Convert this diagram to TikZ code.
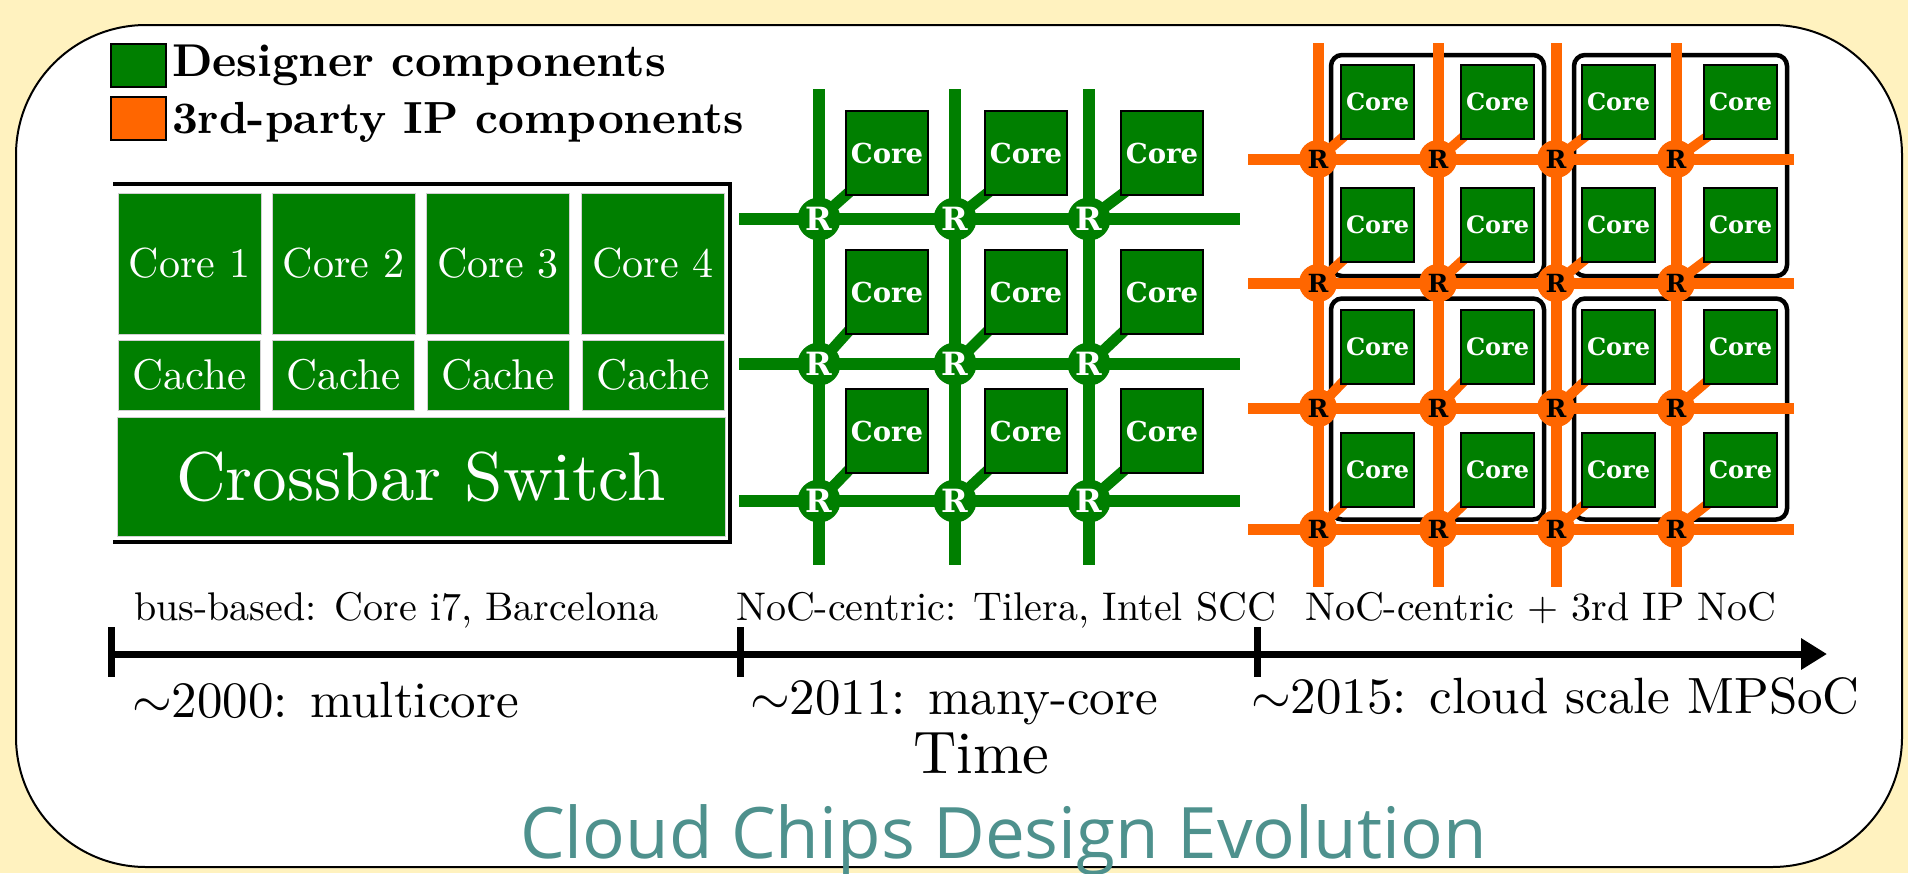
\documentclass[tikz,border=0pt]{standalone}
\usepackage{fontspec}
\setmainfont{lmroman10-regular.otf}[BoldFont=lmroman10-bold.otf]
\newfontfamily\titlefont{Open Sans}
\newfontfamily\gridfont{DejaVu Serif}
\usepackage{graphicx}
\usetikzlibrary{arrows.meta}
\definecolor{bgyel}{HTML}{FFF2BF}
\definecolor{gcol}{HTML}{007F00}
\definecolor{ocol}{HTML}{FF6600}
\definecolor{tealtitle}{HTML}{4E918D}
\newcommand\fsz[1]{\fontsize{#1}{#1}\selectfont}
\newcommand\tld[1]{\scalebox{#1}{\fsz{10}$\sim$}}
\pgfdeclarelayer{back}
\pgfdeclarelayer{wires}
\pgfsetlayers{back,wires,main}
\begin{document}
\begin{tikzpicture}[x=1pt,y=-1pt,
  every node/.style={inner sep=0pt, outer sep=0pt},
  legbox/.style={draw=black, line width=1.2pt, minimum width=55pt, minimum height=43pt},
  legtext/.style={anchor=base west, font=\bfseries\fsz{46}},
  mcbox/.style={fill=gcol, draw=black!18, line width=1pt, text=white},
  mccore/.style={mcbox, minimum width=143pt, minimum height=141pt, font=\fsz{42}},
  mccache/.style={mcbox, minimum width=142pt, minimum height=70pt, font=\fsz{43}},
  frameline/.style={line width=4pt, black},
  gwire/.style={gcol, line width=12pt},
  grouter/.style={circle, fill=gcol, minimum size=43pt, text=white, font=\gridfont\bfseries\fsz{32}},
  gcore/.style={fill=gcol, draw=black, line width=2pt, minimum width=82pt, minimum height=84pt, text=white, font=\gridfont\bfseries\fsz{27.5}},
  glink/.style={gcol, line width=11pt, shorten >=-12pt},
  owire/.style={ocol, line width=11pt},
  orouter/.style={circle, fill=ocol, minimum size=38pt, text=black, font=\gridfont\bfseries\fsz{25}},
  ocore/.style={fill=gcol, draw=black, line width=1.8pt, minimum width=73pt, minimum height=74pt, text=white, font=\gridfont\bfseries\fsz{24}},
  olink/.style={ocol, line width=10pt, shorten >=-10pt},
  cluster/.style={draw=black, line width=4.5pt, rounded corners=11pt, minimum width=213pt, minimum height=221pt},
  axisline/.style={line width=7pt, black},
  tlabel/.style={anchor=base west, font=\fsz{40}},
  era/.style={anchor=base west, font=\fsz{51}},
]
\useasboundingbox (0,0) rectangle (1908,873);
\begin{pgfonlayer}{back}
  \fill[bgyel] (0,0) rectangle (1908,873);
  \draw[fill=white, line width=2pt, rounded corners=130pt] (16,25) rectangle (1902,867);
\end{pgfonlayer}

% legend
\node[legbox, fill=gcol] (lg) at (138.5,65.5) {};
\node[legbox, fill=ocol] (lo) at (138.5,118.5) {};
\node[legtext] (lgt) at (172,76) {Designer components};
\node[legtext, font=\bfseries\fsz{45}] (lot) at (172,133) {3rd-party IP components};

% multicore block
\foreach \x [count=\i] in {189.5,343.5,498,653} {
  \node[mccore] (core\i) at (\x,263.5) {Core \i};
  \node[mccache] (cache\i) at (\x,375) {Cache};
}
\node[mcbox, minimum width=608pt, minimum height=119pt, font=\fsz{69}] (xbar) at (421,476.5) {Crossbar Switch};
\coordinate (fa) at (113,184);
\coordinate (fb) at (730,184);
\coordinate (fc) at (730,542);
\coordinate (fd) at (113,542);
\draw[frameline] (fa) -- (fb) -- (fc) -- (fd);

% green NoC
\begin{pgfonlayer}{wires}
  \foreach \x [count=\i] in {819,955,1089} {
    \coordinate (gvt\i) at (\x,89);
    \coordinate (gvb\i) at (\x,565);
    \draw[gwire] (gvt\i) -- (gvb\i);
  }
  \foreach \y [count=\j] in {219,364,501} {
    \coordinate (ghl\j) at (739,\y);
    \coordinate (ghr\j) at (1240,\y);
    \draw[gwire] (ghl\j) -- (ghr\j);
  }
\end{pgfonlayer}
\foreach \x [count=\i] in {819,955,1089} {
  \foreach \y [count=\j] in {219,364,501} {
    \node[grouter] (gR\i\j) at (\x,\y) {R};
  }
}
\foreach \x [count=\i] in {887,1026,1162} {
  \foreach \y [count=\j] in {153,292,431} {
    \node[gcore] (gC\i\j) at (\x,\y) {Core};
  }
}
\begin{pgfonlayer}{wires}
  \foreach \i in {1,2,3} {
    \foreach \j in {1,2,3} {
      \draw[glink] (gR\i\j.center) -- (gC\i\j.south west);
    }
  }
\end{pgfonlayer}

% orange NoC with clusters
\begin{pgfonlayer}{back}
  \node[cluster] (cl1) at (1437.5,165.5) {};
  \node[cluster] (cl2) at (1680.5,165.5) {};
  \node[cluster] (cl3) at (1437.5,409) {};
  \node[cluster] (cl4) at (1680.5,409) {};
\end{pgfonlayer}
\begin{pgfonlayer}{wires}
  \foreach \x [count=\i] in {1318,1438,1556,1676} {
    \coordinate (ovt\i) at (\x,43);
    \coordinate (ovb\i) at (\x,587);
    \draw[owire] (ovt\i) -- (ovb\i);
  }
  \foreach \y [count=\j] in {159,283,408,529} {
    \coordinate (ohl\j) at (1248,\y);
    \coordinate (ohr\j) at (1794,\y);
    \draw[owire] (ohl\j) -- (ohr\j);
  }
\end{pgfonlayer}
\foreach \x [count=\i] in {1318,1438,1556,1676} {
  \foreach \y [count=\j] in {159,283,408,529} {
    \node[orouter] (oR\i\j) at (\x,\y) {R};
  }
}
\foreach \x [count=\i] in {1377.5,1497.5,1618.5,1740.5} {
  \foreach \y [count=\j] in {102,225,347,470} {
    \node[ocore] (oC\i\j) at (\x,\y) {Core};
  }
}
\begin{pgfonlayer}{wires}
  \foreach \i in {1,2,3,4} {
    \foreach \j in {1,2,3,4} {
      \draw[olink] (oR\i\j.center) -- (oC\i\j.south west);
    }
  }
\end{pgfonlayer}

% timeline
\coordinate (tA) at (111,654);
\coordinate (tEnd) at (1827,654);
\draw[axisline, -{Triangle[length=26pt,width=30pt]}] (tA) -- (tEnd);
\foreach \x [count=\k] in {111,740,1257} {
  \coordinate (tk\k a) at (\x,627);
  \coordinate (tk\k b) at (\x,677);
  \draw[axisline] (tk\k a) -- (tk\k b);
}
\node[tlabel] (lbus) at (134,620) {bus-based: Core i7, Barcelona};
\node[tlabel] (lnoc) at (736,620) {NoC-centric: Tilera, Intel SCC};
\node[tlabel] (lnoc3) at (1305,620) {NoC-centric + 3rd IP NoC};
\node[era] (e2000) at (132,717) {\tld{5.1}2000: multicore};
\node[era] (e2011) at (750,714) {\tld{5.1}2011: many-core};
\node[era] (e2015) at (1251,713) {\tld{5.1}2015: cloud scale MPSoC};
\node[anchor=base west, font=\fsz{60}] (time) at (913,773) {Time};
\node[anchor=base west, font=\titlefont\fsz{71}, text=tealtitle] (title) at (520,858) {Cloud Chips Design Evolution};
\end{tikzpicture}
\end{document}
